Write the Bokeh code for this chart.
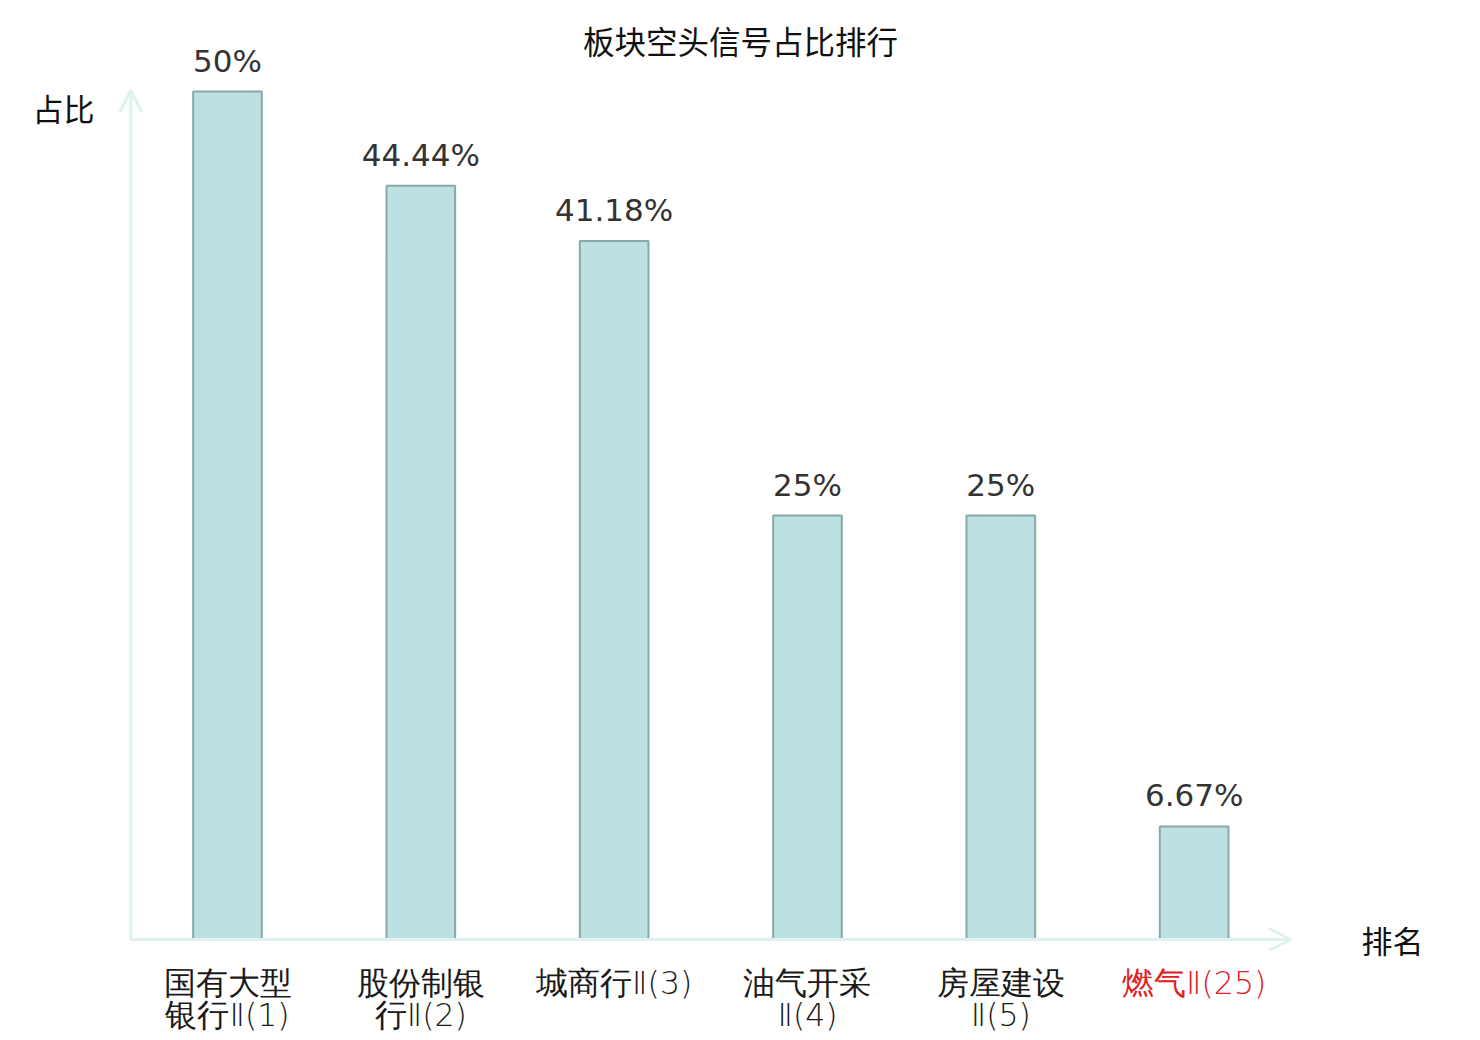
from bokeh.plotting import figure
from bokeh.models import ColumnDataSource, Range1d, Arrow, OpenHead, Label
from bokeh.core.properties import value
from bokeh.embed import file_html
from bokeh.resources import INLINE

title = "板块空头信号占比排行"
y_name = "占比"
x_name = "排名"
categories = ["国有大型\n银行Ⅱ(1)", "股份制银\n行Ⅱ(2)", "城商行Ⅱ(3)",
              "油气开采\nⅡ(4)", "房屋建设\nⅡ(5)", "燃气Ⅱ(25)"]
values = [50.0, 44.44, 41.18, 25.0, 25.0, 6.67]
value_labels = ["50%", "44.44%", "41.18%", "25%", "25%", "6.67%"]
label_colors = ["#1a1a1a", "#1a1a1a", "#1a1a1a", "#1a1a1a", "#1a1a1a", "#e0201e"]

W, H = 1474, 1040
xs = list(range(len(categories)))
line1 = [c.split("\n")[0] for c in categories]
line2 = [c.split("\n")[1] if "\n" in c else "" for c in categories]

src = ColumnDataSource(dict(x=xs, top=values, lab=value_labels,
                            l1=line1, l2=line2, col=label_colors,
                            zero=[0] * len(xs)))

x_start = -227 / 193.33
y_start = -(H - 939) / 16.96
p = figure(width=W, height=H, output_backend="svg", toolbar_location=None,
           x_range=Range1d(x_start, x_start + W / 193.33),
           y_range=Range1d(y_start, y_start + H / 16.96),
           min_border=0, x_axis_location=None, y_axis_location=None)
p.grid.visible = False
p.outline_line_color = None
p.background_fill_color = "white"

p.vbar(x="x", top="top", bottom=0, width=0.355, source=src,
       fill_color="#bde0e3", line_color="#8aa8aa", line_width=2)

p.text(x="x", y="top", text="lab", source=src, text_align="center",
       text_baseline="alphabetic", y_offset=-31,
       text_font=value("DejaVu Sans"), text_font_size="31px", text_color="#333333")

lab_font = value("DejaVu Sans Light")
p.text(x="x", y="zero", text="l1", source=src, text_align="center",
       text_baseline="middle", y_offset=43, text_color="col",
       text_font=lab_font, text_font_size="31.5px")
p.text(x="x", y="zero", text="l2", source=src, text_align="center",
       text_baseline="middle", y_offset=75, text_color="col",
       text_font=lab_font, text_font_size="31.5px")

axis_col = "#dff2ef"
x0 = -0.5
x1 = len(categories) - 0.5
p.add_layout(Arrow(x_start=x0, y_start=0, x_end=x1, y_end=0,
                   line_color=axis_col, line_width=3,
                   end=OpenHead(size=22, line_color=axis_col, line_width=3)))
p.add_layout(Arrow(x_start=x0, y_start=-0.06, x_end=x0, y_end=50.06,
                   line_color=axis_col, line_width=3,
                   end=OpenHead(size=22, line_color=axis_col, line_width=3)))

p.add_layout(Label(x=740, y=H - 39, x_units="screen", y_units="screen",
                   text=title, text_align="center", text_baseline="middle",
                   text_font="Noto Sans CJK SC", text_font_size="31.5px",
                   text_color="#111111"))
p.add_layout(Label(x=63, y=H - 107, x_units="screen", y_units="screen",
                   text=y_name, text_align="center", text_baseline="middle",
                   text_font="Noto Sans CJK SC", text_font_size="31px",
                   text_color="#111111"))
p.add_layout(Label(x=1392, y=H - 939, x_units="screen", y_units="screen",
                   text=x_name, text_align="center", text_baseline="middle",
                   text_font="Noto Sans CJK SC", text_font_size="31px",
                   text_color="#111111"))

open("out.html", "w").write(file_html(p, INLINE))
